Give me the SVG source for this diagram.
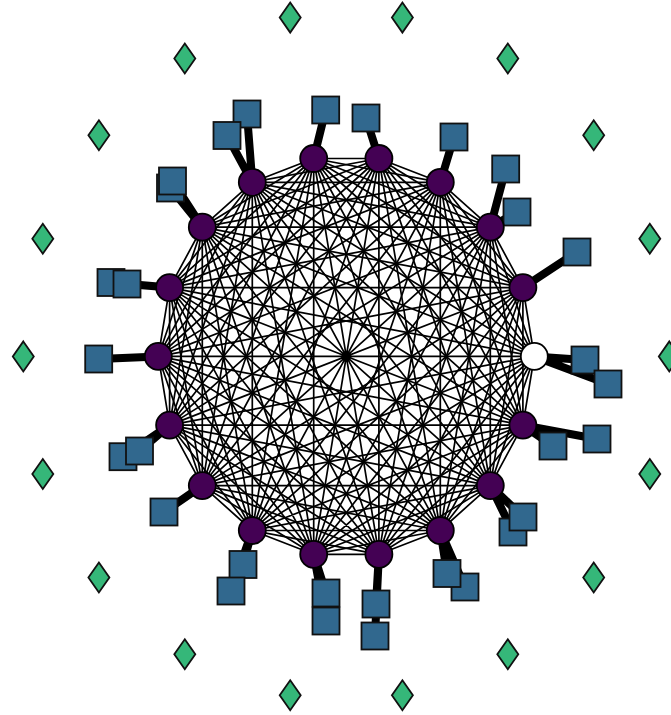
<svg xmlns="http://www.w3.org/2000/svg" xmlns:xlink="http://www.w3.org/1999/xlink" width="671" height="715" viewBox="0 0 671 715">
<style>
.e{fill:none;stroke:#000;stroke-width:1.7;stroke-linejoin:round}
.t{stroke:#000;stroke-width:8}
.c{fill:#440154;stroke:#000;stroke-width:1.8}
.w{fill:#ffffff;stroke:#000;stroke-width:1.8}
.s{fill:#31688e;stroke:#111;stroke-width:1.8}
.d{fill:#35b779;stroke:#111;stroke-width:1.8;stroke-linejoin:miter}
</style>
<defs>
<polygon id="dia" points="0,-15 10.5,0 0,15 -10.5,0"/>
</defs>
<rect width="671" height="715" fill="#ffffff"/>
<g id="connectors">
<polygon class="e" points="534.3,356.4 522.9,287.6 490.3,227.2 440.3,182.3 378.9,158.5 313.7,158.5 252.3,182.3 202.3,227.2 169.6,287.6 158.3,356.4 169.6,425.1 202.3,485.6 252.3,530.5 313.7,554.3 378.9,554.3 440.3,530.5 490.3,485.6 522.9,425.1"/>
<polygon class="e" points="534.3,356.4 313.7,158.5 169.6,425.1 440.3,530.5 490.3,227.2 202.3,227.2 252.3,530.5 522.9,425.1 378.9,158.5 158.3,356.4 378.9,554.3 522.9,287.6 252.3,182.3 202.3,485.6 490.3,485.6 440.3,182.3 169.6,287.6 313.7,554.3"/>
<polygon class="e" points="534.3,356.4 202.3,227.2 378.9,554.3 440.3,182.3 169.6,425.1 522.9,425.1 252.3,182.3 313.7,554.3 490.3,227.2 158.3,356.4 490.3,485.6 313.7,158.5 252.3,530.5 522.9,287.6 169.6,287.6 440.3,530.5 378.9,158.5 202.3,485.6"/>
<polygon class="e" points="534.3,356.4 490.3,227.2 378.9,158.5 252.3,182.3 169.6,287.6 169.6,425.1 252.3,530.5 378.9,554.3 490.3,485.6"/>
<polygon class="e" points="522.9,287.6 440.3,182.3 313.7,158.5 202.3,227.2 158.3,356.4 202.3,485.6 313.7,554.3 440.3,530.5 522.9,425.1"/>
<polygon class="e" points="534.3,356.4 378.9,158.5 169.6,287.6 252.3,530.5 490.3,485.6 490.3,227.2 252.3,182.3 169.6,425.1 378.9,554.3"/>
<polygon class="e" points="522.9,287.6 313.7,158.5 158.3,356.4 313.7,554.3 522.9,425.1 440.3,182.3 202.3,227.2 202.3,485.6 440.3,530.5"/>
<polygon class="e" points="534.3,356.4 169.6,287.6 490.3,485.6 252.3,182.3 378.9,554.3 378.9,158.5 252.3,530.5 490.3,227.2 169.6,425.1"/>
<polygon class="e" points="522.9,287.6 158.3,356.4 522.9,425.1 202.3,227.2 440.3,530.5 313.7,158.5 313.7,554.3 440.3,182.3 202.3,485.6"/>
<polygon class="e" points="534.3,356.4 440.3,182.3 252.3,182.3 158.3,356.4 252.3,530.5 440.3,530.5"/>
<polygon class="e" points="522.9,287.6 378.9,158.5 202.3,227.2 169.6,425.1 313.7,554.3 490.3,485.6"/>
<polygon class="e" points="490.3,227.2 313.7,158.5 169.6,287.6 202.3,485.6 378.9,554.3 522.9,425.1"/>
<polygon class="e" points="534.3,356.4 252.3,182.3 252.3,530.5"/>
<polygon class="e" points="522.9,287.6 202.3,227.2 313.7,554.3"/>
<polygon class="e" points="490.3,227.2 169.6,287.6 378.9,554.3"/>
<polygon class="e" points="440.3,182.3 158.3,356.4 440.3,530.5"/>
<polygon class="e" points="378.9,158.5 169.6,425.1 490.3,485.6"/>
<polygon class="e" points="313.7,158.5 202.3,485.6 522.9,425.1"/>
<path class="e" d="M534.3,356.4L158.3,356.4M522.9,287.6L169.6,425.1M490.3,227.2L202.3,485.6M440.3,182.3L252.3,530.5M378.9,158.5L313.7,554.3M313.7,158.5L378.9,554.3M252.3,182.3L440.3,530.5M202.3,227.2L490.3,485.6M169.6,287.6L522.9,425.1"/>
<path class="t" d="M378.9,158.5L366,118M313.7,158.5L325.7,110M252.3,182.3L247,114M252.3,182.3L227,135.5M202.3,227.2L170.5,188M202.3,227.2L172.5,181M169.6,287.6L111,282.5M169.6,287.6L127,284M158.3,356.4L98.7,359M169.6,425.1L123,456.7M169.6,425.1L139.5,451M202.3,485.6L164,512M252.3,530.5L243,564.5M252.3,530.5L231,591M313.7,554.3L326,593M313.7,554.3L326,621M378.9,554.3L376,604M378.9,554.3L375,636M440.3,530.5L465,587M440.3,530.5L447,573.5M490.3,485.6L513,532M490.3,485.6L523,517M522.9,425.1L597,439M522.9,425.1L553,446M534.3,356.4L585,360M534.3,356.4L608,384M522.9,287.6L577,252M490.3,227.2L505.7,169M490.3,227.2L517,212M440.3,182.3L454,137"/>
</g>
<g id="squares">
<g id="s4a"><rect class="s" x="352.5" y="104.5" width="27" height="27"/></g>
<g id="s5a"><rect class="s" x="312.2" y="96.5" width="27" height="27"/></g>
<g id="s6a"><rect class="s" x="233.5" y="100.5" width="27" height="27"/></g>
<g id="s6b"><rect class="s" x="213.5" y="122" width="27" height="27"/></g>
<g id="s7a"><rect class="s" x="157" y="174.5" width="27" height="27"/></g>
<g id="s7b"><rect class="s" x="159" y="167.5" width="27" height="27"/></g>
<g id="s8a"><rect class="s" x="97.5" y="269" width="27" height="27"/></g>
<g id="s8b"><rect class="s" x="113.5" y="270.5" width="27" height="27"/></g>
<g id="s9a"><rect class="s" x="85.2" y="345.5" width="27" height="27"/></g>
<g id="s10a"><rect class="s" x="109.5" y="443.2" width="27" height="27"/></g>
<g id="s10b"><rect class="s" x="126" y="437.5" width="27" height="27"/></g>
<g id="s11a"><rect class="s" x="150.5" y="498.5" width="27" height="27"/></g>
<g id="s12a"><rect class="s" x="229.5" y="551" width="27" height="27"/></g>
<g id="s12b"><rect class="s" x="217.5" y="577.5" width="27" height="27"/></g>
<g id="s13a"><rect class="s" x="312.5" y="579.5" width="27" height="27"/></g>
<g id="s13b"><rect class="s" x="312.5" y="607.5" width="27" height="27"/></g>
<g id="s14a"><rect class="s" x="362.5" y="590.5" width="27" height="27"/></g>
<g id="s14b"><rect class="s" x="361.5" y="622.5" width="27" height="27"/></g>
<g id="s15a"><rect class="s" x="451.5" y="573.5" width="27" height="27"/></g>
<g id="s15b"><rect class="s" x="433.5" y="560" width="27" height="27"/></g>
<g id="s16a"><rect class="s" x="499.5" y="518.5" width="27" height="27"/></g>
<g id="s16b"><rect class="s" x="509.5" y="503.5" width="27" height="27"/></g>
<g id="s17a"><rect class="s" x="583.5" y="425.5" width="27" height="27"/></g>
<g id="s17b"><rect class="s" x="539.5" y="432.5" width="27" height="27"/></g>
<g id="s0a"><rect class="s" x="571.5" y="346.5" width="27" height="27"/></g>
<g id="s0b"><rect class="s" x="594.5" y="370.5" width="27" height="27"/></g>
<g id="s1a"><rect class="s" x="563.5" y="238.5" width="27" height="27"/></g>
<g id="s2a"><rect class="s" x="492.2" y="155.5" width="27" height="27"/></g>
<g id="s2b"><rect class="s" x="503.5" y="198.5" width="27" height="27"/></g>
<g id="s3a"><rect class="s" x="440.5" y="123.5" width="27" height="27"/></g>
</g>
<g id="circles">
<g id="n0"><circle class="w" cx="534.3" cy="356.4" r="13.5"/></g>
<g id="n1"><circle class="c" cx="522.9" cy="287.6" r="13.5"/></g>
<g id="n2"><circle class="c" cx="490.3" cy="227.2" r="13.5"/></g>
<g id="n3"><circle class="c" cx="440.3" cy="182.3" r="13.5"/></g>
<g id="n4"><circle class="c" cx="378.9" cy="158.5" r="13.5"/></g>
<g id="n5"><circle class="c" cx="313.7" cy="158.5" r="13.5"/></g>
<g id="n6"><circle class="c" cx="252.3" cy="182.3" r="13.5"/></g>
<g id="n7"><circle class="c" cx="202.3" cy="227.2" r="13.5"/></g>
<g id="n8"><circle class="c" cx="169.6" cy="287.6" r="13.5"/></g>
<g id="n9"><circle class="c" cx="158.3" cy="356.4" r="13.5"/></g>
<g id="n10"><circle class="c" cx="169.6" cy="425.1" r="13.5"/></g>
<g id="n11"><circle class="c" cx="202.3" cy="485.6" r="13.5"/></g>
<g id="n12"><circle class="c" cx="252.3" cy="530.5" r="13.5"/></g>
<g id="n13"><circle class="c" cx="313.7" cy="554.3" r="13.5"/></g>
<g id="n14"><circle class="c" cx="378.9" cy="554.3" r="13.5"/></g>
<g id="n15"><circle class="c" cx="440.3" cy="530.5" r="13.5"/></g>
<g id="n16"><circle class="c" cx="490.3" cy="485.6" r="13.5"/></g>
<g id="n17"><circle class="c" cx="522.9" cy="425.1" r="13.5"/></g>
</g>
<g id="diamonds">
<g id="d0"><use href="#dia" xlink:href="#dia" class="d" x="669.3" y="356.4"/></g>
<g id="d1"><use href="#dia" xlink:href="#dia" class="d" x="649.8" y="238.8"/></g>
<g id="d2"><use href="#dia" xlink:href="#dia" class="d" x="593.7" y="135.3"/></g>
<g id="d3"><use href="#dia" xlink:href="#dia" class="d" x="507.8" y="58.5"/></g>
<g id="d4"><use href="#dia" xlink:href="#dia" class="d" x="402.4" y="17.6"/></g>
<g id="d5"><use href="#dia" xlink:href="#dia" class="d" x="290.2" y="17.6"/></g>
<g id="d6"><use href="#dia" xlink:href="#dia" class="d" x="184.8" y="58.5"/></g>
<g id="d7"><use href="#dia" xlink:href="#dia" class="d" x="98.9" y="135.3"/></g>
<g id="d8"><use href="#dia" xlink:href="#dia" class="d" x="42.8" y="238.8"/></g>
<g id="d9"><use href="#dia" xlink:href="#dia" class="d" x="23.3" y="356.4"/></g>
<g id="d10"><use href="#dia" xlink:href="#dia" class="d" x="42.8" y="474"/></g>
<g id="d11"><use href="#dia" xlink:href="#dia" class="d" x="98.9" y="577.5"/></g>
<g id="d12"><use href="#dia" xlink:href="#dia" class="d" x="184.8" y="654.3"/></g>
<g id="d13"><use href="#dia" xlink:href="#dia" class="d" x="290.2" y="695.2"/></g>
<g id="d14"><use href="#dia" xlink:href="#dia" class="d" x="402.4" y="695.2"/></g>
<g id="d15"><use href="#dia" xlink:href="#dia" class="d" x="507.8" y="654.3"/></g>
<g id="d16"><use href="#dia" xlink:href="#dia" class="d" x="593.7" y="577.5"/></g>
<g id="d17"><use href="#dia" xlink:href="#dia" class="d" x="649.8" y="474"/></g>
</g>
</svg>
